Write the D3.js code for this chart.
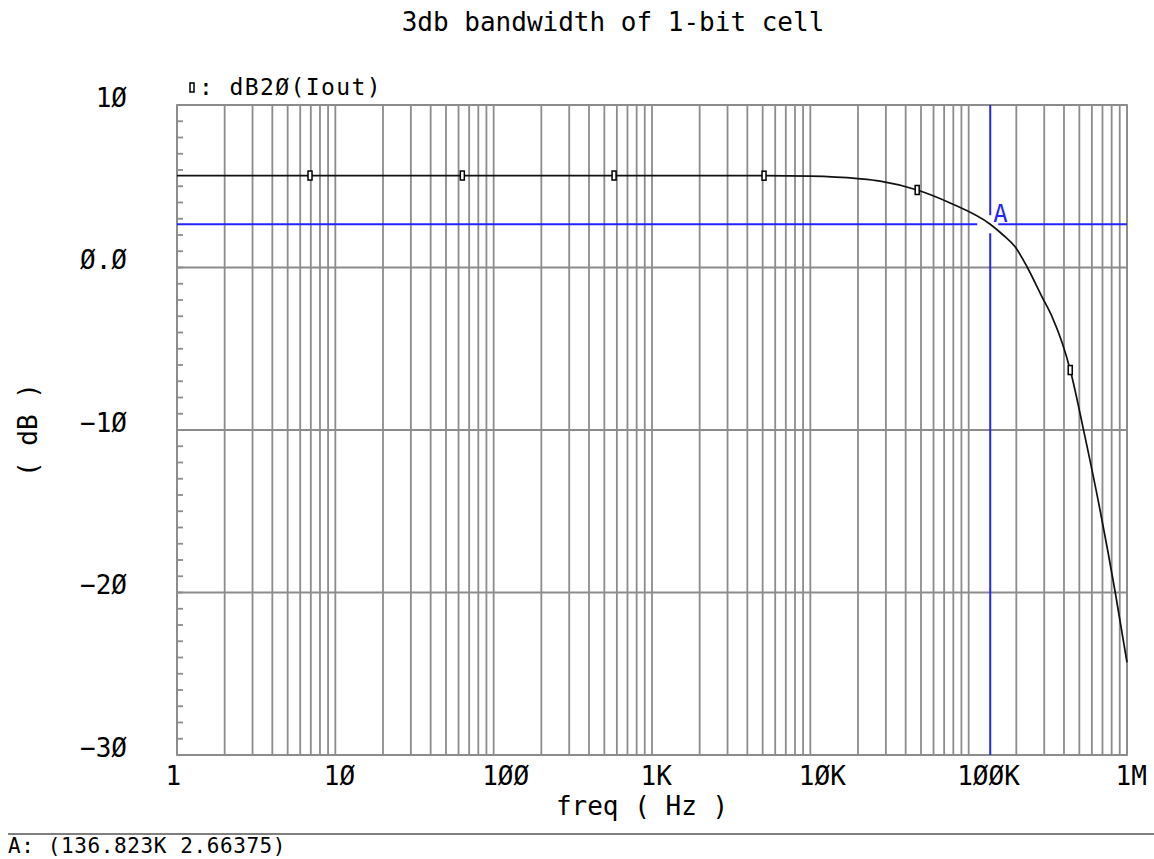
<!DOCTYPE html>
<html>
<head>
<meta charset="utf-8">
<script src="https://cdn.jsdelivr.net/npm/d3@7"></script>
<style>
    body { margin: 0; background: #ffffff; }
    #chart { width: 1154px; height: 859px; }
    text { font-family: "DejaVu Sans Mono", monospace; fill: #000; }
</style>
</head>
<body>
<div id="chart"></div>
<script>
// Curve samples (freq in Hz, gain in dB)
const freqHz = [1, 10, 100, 1000, 5000, 10000, 20000, 27600, 47300, 76400, 136823,
    165000, 197000, 234000, 291000, 337000, 390000, 438000, 529000, 678000, 842000, 1000000];
const gainDb = [5.66, 5.66, 5.66, 5.66, 5.65, 5.62, 5.47, 5.32, 4.77, 3.97, 2.66,
    2.0, 1.26, 0.03, -1.82, -3.05, -4.65, -6.31, -9.9, -15.0, -19.97, -24.3];

// Little square markers sitting on the trace
const markerFreqHz = [6.92, 63.4, 576, 5100, 47300, 438000];
const markerDb = [5.66, 5.66, 5.66, 5.65, 4.77, -6.31];

// Axes
const xTickValues = [1, 10, 100, 1000, 10000, 100000, 1000000];
const xTickLabels = ["1", "1Ø", "1ØØ", "1K", "1ØK", "1ØØK", "1M"];
const yTickValues = [10, 0, -10, -20, -30];
const yTickLabels = ["1Ø", "Ø.Ø", "−1Ø", "−2Ø", "−3Ø"];

// Cursor A
const cursorName = "A";
const cursorFreq = 136823;
const cursorDb = 2.66375;
const cursorReadout = "A: (136.823K 2.66375)";

const titleText = "3db bandwidth of 1-bit cell";
const legendText = ": dB2Ø(Iout)";
const xAxisTitle = "freq ( Hz )";
const yAxisTitle = "( dB )";

class BodePlot {
    constructor(parentElement) {
        this.parentElement = parentElement;
        this.margin = {top: 105, right: 27, bottom: 104, left: 177};
        this.totalWidth = 1154;
        this.totalHeight = 859;
        this.gridColor = "#8c8c8c";
        this.cursorColor = "#2424ff";
        this.initVis();
    }

    initVis() {
        let vis = this;
        vis.setupSvg();
        vis.setupScales();
        vis.drawGrid();
        vis.drawAxes();
        vis.drawCursor();
        vis.drawTrace();
        vis.drawLabels();
    }

    setupSvg() {
        let vis = this;
        vis.width = vis.totalWidth - vis.margin.left - vis.margin.right;
        vis.height = vis.totalHeight - vis.margin.top - vis.margin.bottom;

        vis.root = d3.select(`#${vis.parentElement}`)
            .append("svg")
            .attr("width", vis.totalWidth)
            .attr("height", vis.totalHeight);

        vis.svg = vis.root.append("g")
            .attr("transform", `translate(${vis.margin.left},${vis.margin.top})`);
    }

    setupScales() {
        let vis = this;
        vis.x = d3.scaleLog()
            .domain([1, 1e6])
            .range([0, vis.width]);

        vis.y = d3.scaleLinear()
            .domain([-30, 10])
            .range([vis.height, 0]);
    }

    drawGrid() {
        let vis = this;

        // vertical lines at every 1..9 of each decade
        vis.svg.append("g")
            .attr("class", "grid-x")
            .selectAll("line")
            .data(vis.x.ticks())
            .join("line")
            .attr("x1", d => vis.x(d))
            .attr("x2", d => vis.x(d))
            .attr("y1", 0)
            .attr("y2", vis.height)
            .attr("stroke", vis.gridColor)
            .attr("stroke-width", 1.8);

        // horizontal lines every 10 dB
        vis.svg.append("g")
            .attr("class", "grid-y")
            .selectAll("line")
            .data(yTickValues)
            .join("line")
            .attr("x1", 0)
            .attr("x2", vis.width)
            .attr("y1", d => vis.y(d))
            .attr("y2", d => vis.y(d))
            .attr("stroke", vis.gridColor)
            .attr("stroke-width", 1.8);

        // 1 dB minor ticks on the left edge
        vis.svg.append("g")
            .attr("class", "minor-y")
            .selectAll("line")
            .data(d3.range(-30, 11))
            .join("line")
            .attr("x1", 0)
            .attr("x2", 6)
            .attr("y1", d => vis.y(d))
            .attr("y2", d => vis.y(d))
            .attr("stroke", vis.gridColor)
            .attr("stroke-width", 1.8);

        // frame
        vis.svg.append("rect")
            .attr("width", vis.width)
            .attr("height", vis.height)
            .attr("fill", "none")
            .attr("stroke", vis.gridColor)
            .attr("stroke-width", 1.8);
    }

    drawAxes() {
        let vis = this;

        const xAxis = d3.axisBottom(vis.x)
            .tickValues(xTickValues)
            .tickFormat((d, i) => xTickLabels[i])
            .tickSize(0);

        const xG = vis.svg.append("g")
            .attr("class", "x-axis")
            .attr("transform", `translate(0,${vis.height})`)
            .call(xAxis);
        xG.select(".domain").remove();
        xG.selectAll("text")
            .attr("font-family", "DejaVu Sans Mono")
            .attr("font-size", 26)
            .attr("text-anchor", "start")
            .attr("dy", null)
            .attr("x", -12)
            .attr("y", 30);

        const yAxis = d3.axisLeft(vis.y)
            .tickValues(yTickValues)
            .tickFormat((d, i) => yTickLabels[i])
            .tickSize(0);

        const yG = vis.svg.append("g")
            .attr("class", "y-axis")
            .call(yAxis);
        yG.select(".domain").remove();
        yG.selectAll("text")
            .attr("font-family", "DejaVu Sans Mono")
            .attr("font-size", 26)
            .attr("text-anchor", "end")
            .attr("dy", null)
            .attr("x", -50)
            .attr("y", 1);
    }

    drawCursor() {
        let vis = this;
        const cx = vis.x(cursorFreq);
        const cy = vis.y(cursorDb);

        // lines break around the crossing point
        const segs = [
            [0, cy, cx - 13, cy],
            [cx + 8, cy, vis.width, cy],
            [cx, 0, cx, cy - 9],
            [cx, cy + 9, cx, vis.height]
        ];
        vis.svg.append("g")
            .attr("class", "cursor")
            .selectAll("line")
            .data(segs)
            .join("line")
            .attr("x1", d => d[0])
            .attr("y1", d => d[1])
            .attr("x2", d => d[2])
            .attr("y2", d => d[3])
            .attr("stroke", vis.cursorColor)
            .attr("stroke-width", 2);

        vis.svg.append("text")
            .attr("x", cx + 3)
            .attr("y", cy - 2)
            .attr("font-family", "DejaVu Sans")
            .attr("font-size", 24)
            .style("fill", vis.cursorColor)
            .text(cursorName);
    }

    drawTrace() {
        let vis = this;
        const pts = freqHz.map((f, i) => [f, gainDb[i]]);

        const line = d3.line()
            .x(d => vis.x(d[0]))
            .y(d => vis.y(d[1]))
            .curve(d3.curveMonotoneX);

        vis.svg.append("path")
            .datum(pts)
            .attr("fill", "none")
            .attr("stroke", "#111")
            .attr("stroke-width", 1.7)
            .attr("d", line);

        vis.svg.append("g")
            .attr("class", "markers")
            .selectAll("rect")
            .data(markerFreqHz.map((f, i) => [f, markerDb[i]]))
            .join("rect")
            .attr("x", d => vis.x(d[0]) - 2)
            .attr("y", d => vis.y(d[1]) - 4.5)
            .attr("width", 4)
            .attr("height", 9)
            .attr("fill", "#fff")
            .attr("stroke", "#000")
            .attr("stroke-width", 1.5);
    }

    drawLabels() {
        let vis = this;

        vis.root.append("text")
            .attr("x", 613)
            .attr("y", 31)
            .attr("text-anchor", "middle")
            .attr("font-size", 26)
            .text(titleText);

        // legend: marker glyph + name
        vis.root.append("rect")
            .attr("x", 190)
            .attr("y", 83)
            .attr("width", 4)
            .attr("height", 9)
            .attr("fill", "#fff")
            .attr("stroke", "#000")
            .attr("stroke-width", 1.5);
        vis.root.append("text")
            .attr("x", 199)
            .attr("y", 95)
            .attr("font-size", 23)
            .attr("letter-spacing", 1.4)
            .text(legendText);

        vis.root.append("text")
            .attr("x", 642)
            .attr("y", 815)
            .attr("text-anchor", "middle")
            .attr("font-size", 26)
            .text(xAxisTitle);

        vis.root.append("text")
            .attr("transform", "translate(37,430) rotate(-90)")
            .attr("text-anchor", "middle")
            .attr("font-size", 26)
            .text(yAxisTitle);

        // readout strip at the bottom
        vis.root.append("line")
            .attr("x1", 8)
            .attr("x2", vis.totalWidth)
            .attr("y1", 834)
            .attr("y2", 834)
            .attr("stroke", "#000")
            .attr("stroke-width", 1);
        vis.root.append("text")
            .attr("x", 8)
            .attr("y", 853)
            .attr("font-size", 21)
            .attr("letter-spacing", 0.6)
            .text(cursorReadout);
    }
}

new BodePlot("chart");
</script>
</body>
</html>
